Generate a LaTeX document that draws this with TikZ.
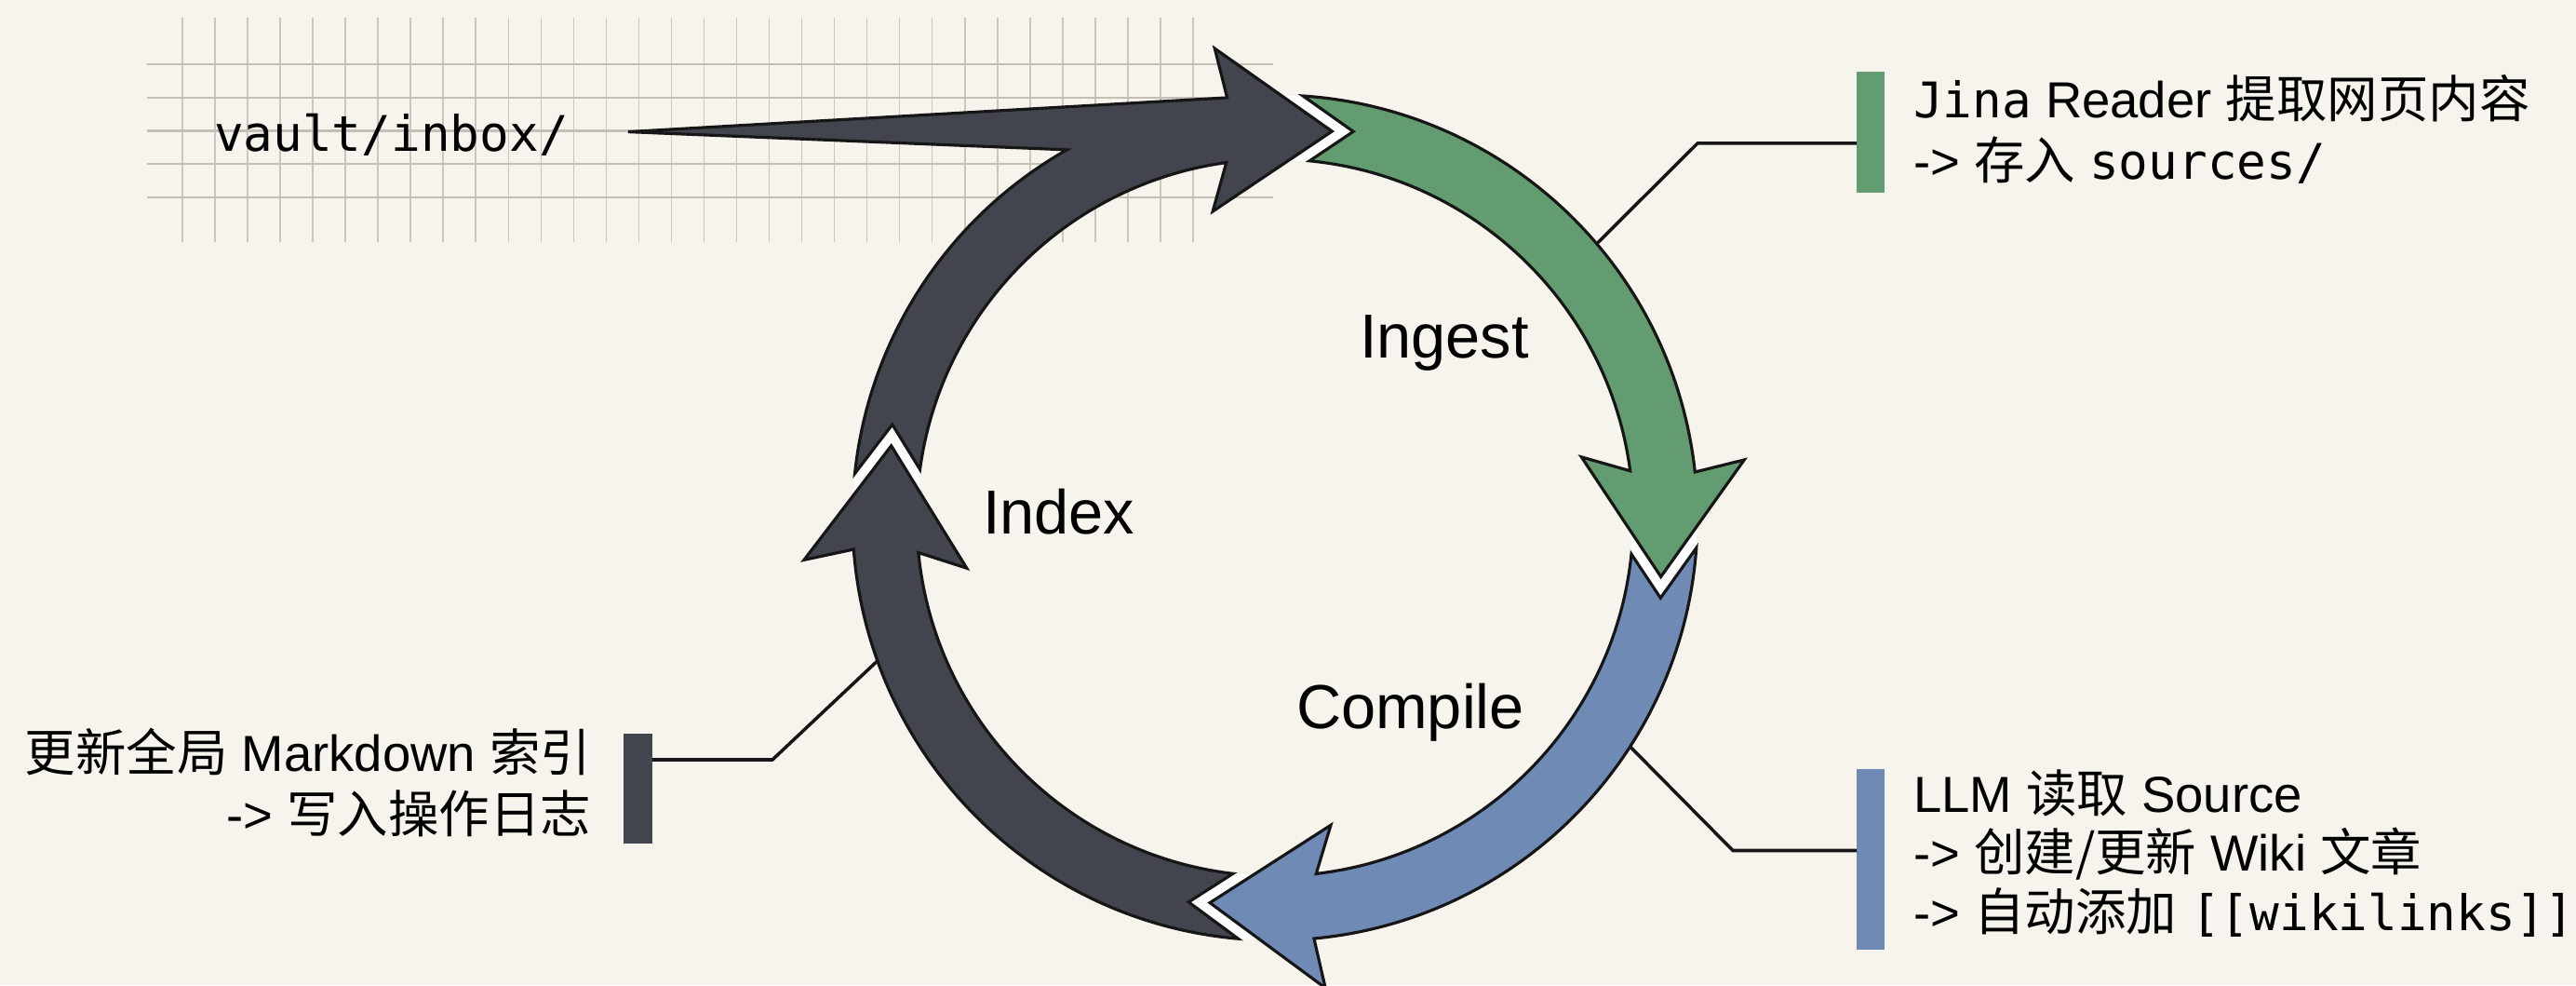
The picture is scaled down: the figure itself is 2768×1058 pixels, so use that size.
\documentclass[tikz,border=0pt]{standalone}
\usepackage{fontspec}
\setmainfont{Liberation Sans}
\newfontfamily\cjkfont{Noto Sans CJK SC}
\newfontfamily\monofont{DejaVu Sans Mono}
\usetikzlibrary{calc}

\definecolor{paper}{RGB}{246,244,237}
\definecolor{inkdark}{RGB}{66,69,77}
\definecolor{leaf}{RGB}{99,156,113}
\definecolor{slateblue}{RGB}{112,138,182}
\definecolor{gridv}{RGB}{203,199,190}
\definecolor{gridh}{RGB}{196,191,181}
\definecolor{outline}{RGB}{22,22,22}

% code-like words keep a fixed size next to the text around them
\newcommand\mt[1]{{\fontsize{30}{36}\selectfont\monofont #1}}

% One segment of the cycle, drawn in a frame where its tip sits at angle 0.
% #1 = tip angle, #2 = angle back to the previous tip, #3 = fill colour
\newcommand\cyclearrow[3]{%
  \begin{scope}[shift={(C)}, rotate=#1]
    \filldraw[arrowbody, fill=#3]
      ({#2+4.6}:454) arc[start angle={#2+4.6}, end angle=14.9, radius=454]
      -- (15.72:508.1) -- (0:419.5) -- (19.89:335.7) -- (16.2:385)
      arc[start angle=16.2, end angle={#2+2.86}, radius=385]
      -- ({#2-3.07}:423.2) -- cycle;
  \end{scope}}

% White seam between a tip and the notched tail that follows it
\newcommand\tipgap[1]{%
  \begin{scope}[shift={(C)}, rotate=#1]
    \fill[white] (0:419.5) -- (7.50:453.3) -- (4.6:454) -- (-3.07:423.2)
      -- (2.86:385) -- (6.27:383.7) -- cycle;
  \end{scope}}

\begin{document}
\begin{tikzpicture}[x=0.02cm, y=0.02cm,
  arrowbody/.style={draw=outline, line width=1.8pt, line join=miter},
  link/.style={draw=outline, line width=2pt},
  lbl/.style={inner sep=0pt, outer sep=0pt, font=\fontsize{31}{37}\selectfont},
  stage/.style={inner sep=0pt, outer sep=0pt, font=\fontsize{38}{44}\selectfont},
  bar/.style={inner sep=0pt, outer sep=0pt, draw=none, minimum width=0.6cm},
  gline/.style={line width=0.9pt, draw=gridv},
  hline/.style={line width=1.4pt, draw=gridh}]

\useasboundingbox (0,0) rectangle (2768,1058);
\fill[paper] (0,0) rectangle (2768,1058);

% squared paper behind the inbox
\foreach \k in {0,...,31}
  \draw[gline] ({196+35.03*\k},798) -- ({196+35.03*\k},1039);
\foreach \k in {0,...,4}
  \draw[hline] (158,{989-35.75*\k}) -- (1368,{989-35.75*\k});

\coordinate (C) at (1370,502);
\coordinate (wtip) at (675,916.4);

% side notes: bars, leader lines, text
\node[bar, fill=leaf, minimum height=2.6cm] (gbar) at (2010,916) {};
\node[bar, fill=slateblue, minimum height=3.88cm] (bbar) at (2010,135) {};
\node[bar, fill=inkdark, minimum width=0.62cm, minimum height=2.36cm] (dbar) at (685.5,211.4) {};

\coordinate (gk) at (1824,904);
\coordinate (gend) at ($(C)+(40.4:454)$);
\coordinate (bk) at (1862,144.5);
\coordinate (bend) at ($(C)+(-32.8:454)$);
\coordinate (dk) at (830,242);
\coordinate (dend) at ($(C)+(199.8:454)$);

\draw[link] (gbar.west |- gk) -- (gk) -- (gend);
\draw[link] (bbar.west |- bk) -- (bk) -- (bend);
\draw[link] (dbar.east |- dk) -- (dk) -- (dend);

\node[lbl, anchor=base west] (vault) at (230,895) {\mt{vault/inbox/}};

% the cycle
\tipgap{81.6}
\tipgap{-8.7}
\tipgap{-99.6}
\tipgap{169.4}

\cyclearrow{-8.7}{90.3}{leaf}
\cyclearrow{-99.6}{90.9}{slateblue}
\cyclearrow{169.4}{91.0}{inkdark}

% last segment, widened by the wedge coming in from the inbox
\begin{scope}[shift={(C)}, rotate=81.6]
  \filldraw[arrowbody, fill=inkdark]
    ({87.8+4.6}:454) arc[start angle={87.8+4.6}, end angle=37.9, radius=454]
    -- (wtip) -- (14.9:454)
    -- (15.72:508.1) -- (0:419.5) -- (19.89:335.7) -- (16.2:385)
    arc[start angle=16.2, end angle={87.8+2.86}, radius=385]
    -- ({87.8-3.07}:423.2) -- cycle;
\end{scope}

\node[stage, anchor=base west] (ingest) at (1461,673.4) {Ingest};
\node[stage, anchor=base west] (index) at (1056,484.5) {Index};
\node[stage, anchor=base west] (compile) at (1393,275.3) {Compile};

\node[lbl, anchor=base west] (g1) at (2056,931) {\mt{Jina} Reader {\cjkfont 提取网页内容}};
\node[lbl, anchor=base west] (g2) at (2056,865) {-> {\cjkfont 存入} \mt{sources/}};

\node[lbl, anchor=base west] (b1) at (2056,185) {LLM {\cjkfont 读取} Source};
\node[lbl, anchor=base west] (b2) at (2056,122) {-> {\cjkfont 创建/更新} Wiki {\cjkfont 文章}};
\node[lbl, anchor=base west] (b3) at (2056,58) {-> {\cjkfont 自动添加} \mt{[[wikilinks]]}};

\node[lbl, anchor=base east] (d1) at (635,229) {{\cjkfont 更新全局} Markdown {\cjkfont 索引}};
\node[lbl, anchor=base east] (d2) at (635,163) {-> {\cjkfont 写入操作日志}};

\end{tikzpicture}
\end{document}
